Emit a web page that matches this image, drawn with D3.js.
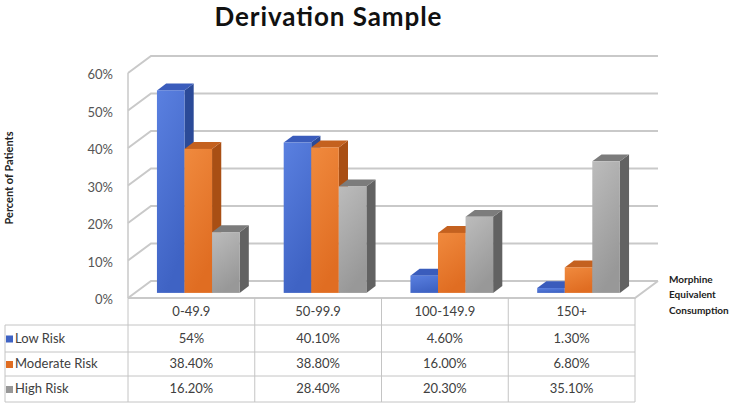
<!DOCTYPE html>
<html>
<head>
<meta charset="utf-8">
<script src="https://cdn.jsdelivr.net/npm/d3@7"></script>
<style>
html,body{margin:0;padding:0;background:#fff;}
svg{display:block;}
</style>
</head>
<body>
<svg id="chart" width="742" height="407"></svg>
<script>
// ---- data ----
const categories = ["0-49.9", "50-99.9", "100-149.9", "150+"];
const seriesNames = ["Low Risk", "Moderate Risk", "High Risk"];
const lowRisk = [54, 40.1, 4.6, 1.3];
const moderateRisk = [38.4, 38.8, 16.0, 6.8];
const highRisk = [16.2, 28.4, 20.3, 35.1];
const lowRiskLabels = ["54%", "40.10%", "4.60%", "1.30%"];
const moderateRiskLabels = ["38.40%", "38.80%", "16.00%", "6.80%"];
const highRiskLabels = ["16.20%", "28.40%", "20.30%", "35.10%"];
const yTicks = [0, 10, 20, 30, 40, 50, 60];
const yTickLabels = ["0%", "10%", "20%", "30%", "40%", "50%", "60%"];
const title = "Derivation Sample";
const yTitle = "Percent of Patients";
const xTitle = ["Morphine", "Equivalent", "Consumption"];

const seriesValues = [lowRisk, moderateRisk, highRisk];
const seriesLabels = [lowRiskLabels, moderateRiskLabels, highRiskLabels];

// ---- styles ----
const palette = [
  {front: ["#5a80e0", "#3f63c4"], side: "#2b4a98", top: "#3a5cbc"},
  {front: ["#f08a3e", "#e06d22"], side: "#a94f14", top: "#c4611f"},
  {front: ["#bcbcbc", "#989898"], side: "#626262", top: "#7c7c7c"}
];
const font = "Lato, 'Open Sans', sans-serif";

const svg = d3.select("#chart");
const defs = svg.append("defs");
palette.forEach((p, i) => {
  const g = defs.append("linearGradient").attr("id", "grad" + i)
    .attr("x1", 0).attr("y1", 0).attr("x2", 0.35).attr("y2", 1);
  g.append("stop").attr("offset", "0%").attr("stop-color", p.front[0]);
  g.append("stop").attr("offset", "100%").attr("stop-color", p.front[1]);
});

// ---- geometry ----
const x0 = 128, x1 = 635, floorY = 298;
const depth = {dx: 23, dy: -17};
const fFront = 0.3, fBack = 0.7;

const x = d3.scaleBand().domain(categories).range([x0, x1]).padding(0);
const xs = d3.scaleBand().domain(seriesNames).range([0, x.bandwidth()])
  .paddingInner(0).paddingOuter(0.8);
const h = d3.scaleLinear().domain([0, 60]).range([0, 225]);

// ---- gridlines: back wall + left wall ----
const grid = svg.append("g").attr("stroke", "#c9c9c9").attr("stroke-width", 2).attr("fill", "none");
yTicks.forEach(t => {
  const yf = floorY - h(t);
  const yb = yf + depth.dy;
  grid.append("path").attr("d", `M${x0},${yf}L${x0 + depth.dx},${yb}L${x1 + depth.dx},${yb}`);
});
// floor outline
grid.append("path").attr("d",
  `M${x0},${floorY}L${x1},${floorY}L${x1 + depth.dx},${floorY + depth.dy}`);
// left vertical axis
svg.append("line").attr("x1", x0).attr("x2", x0)
  .attr("y1", floorY - h(60)).attr("y2", floorY)
  .attr("stroke", "#c9c9c9").attr("stroke-width", 1.5);

// ---- y tick labels ----
svg.append("g").selectAll("text").data(yTicks).join("text")
  .attr("x", 113).attr("y", d => floorY - h(d) + 3)
  .attr("text-anchor", "end").attr("dominant-baseline", "middle")
  .attr("font-family", font).attr("font-size", 13).attr("fill", "#555")
  .text((d, i) => yTickLabels[i]);

// ---- bars ----
const barsG = svg.append("g");
categories.forEach((c, ci) => {
  seriesNames.forEach((s, si) => {
    const v = seriesValues[si][ci];
    const p = palette[si];
    const bx = x(c) + xs(s) + depth.dx * fFront;
    const by = floorY + depth.dy * fFront;
    const w = xs.bandwidth();
    const hh = h(v);
    const ddx = depth.dx * (fBack - fFront), ddy = depth.dy * (fBack - fFront);
    // side
    barsG.append("path").attr("fill", p.side)
      .attr("d", `M${bx + w},${by}L${bx + w + ddx},${by + ddy}L${bx + w + ddx},${by - hh + ddy}L${bx + w},${by - hh}Z`);
    // top
    barsG.append("path").attr("fill", p.top)
      .attr("d", `M${bx},${by - hh}L${bx + ddx},${by - hh + ddy}L${bx + w + ddx},${by - hh + ddy}L${bx + w},${by - hh}Z`);
    // front
    barsG.append("rect").attr("x", bx).attr("y", by - hh)
      .attr("width", w).attr("height", hh).attr("fill", `url(#grad${si})`);
  });
});

// ---- table ----
const tableTop = floorY, headerBottom = 325;
const rowLines = [325, 352, 376, 402];
const legendLeft = 5;
const tg = svg.append("g").attr("stroke", "#c4c4c4").attr("stroke-width", 1).attr("fill", "none");
// vertical lines
[x0, ...categories.map(c => x(c) + x.bandwidth())].forEach(xx => {
  tg.append("line").attr("x1", xx).attr("x2", xx).attr("y1", tableTop).attr("y2", rowLines[3]);
});
tg.append("line").attr("x1", legendLeft).attr("x2", legendLeft).attr("y1", rowLines[0]).attr("y2", rowLines[3]);
rowLines.forEach(yy => {
  tg.append("line").attr("x1", legendLeft).attr("x2", x1).attr("y1", yy).attr("y2", yy);
});

// header labels
svg.append("g").selectAll("text").data(categories).join("text")
  .attr("x", d => x(d) + x.bandwidth() / 2).attr("y", (tableTop + headerBottom) / 2 + 1)
  .attr("text-anchor", "middle").attr("dominant-baseline", "middle")
  .attr("font-family", font).attr("font-size", 13).attr("fill", "#404040")
  .text(d => d);

// rows
seriesNames.forEach((s, si) => {
  const yc = (rowLines[si] + rowLines[si + 1]) / 2 + 1;
  svg.append("rect").attr("x", legendLeft + 1).attr("y", yc - 4).attr("width", 7).attr("height", 7)
    .attr("fill", palette[si].front[1]);
  svg.append("text").attr("x", legendLeft + 10).attr("y", yc)
    .attr("dominant-baseline", "middle")
    .attr("font-family", font).attr("font-size", 13).attr("fill", "#404040").text(s);
  svg.append("g").selectAll("text").data(categories).join("text")
    .attr("x", d => x(d) + x.bandwidth() / 2).attr("y", yc)
    .attr("text-anchor", "middle").attr("dominant-baseline", "middle")
    .attr("font-family", font).attr("font-size", 13).attr("fill", "#404040")
    .text((d, ci) => seriesLabels[si][ci]);
});

// ---- titles ----
svg.append("text").attr("x", 328).attr("y", 26)
  .attr("text-anchor", "middle")
  .attr("font-family", font).attr("font-weight", "bold").attr("font-size", 26)
  .attr("textLength", 227).attr("lengthAdjust", "spacing")
  .attr("fill", "#111").text(title);

svg.append("text").attr("transform", "translate(10,178) rotate(-90)")
  .attr("text-anchor", "middle").attr("dominant-baseline", "middle")
  .attr("font-family", font).attr("font-weight", "bold").attr("font-size", 11)
  .attr("fill", "#222").text(yTitle);

svg.append("g").selectAll("text").data(xTitle).join("text")
  .attr("x", 669).attr("y", (d, i) => 280 + i * 15.5)
  .attr("dominant-baseline", "middle")
  .attr("font-family", font).attr("font-weight", "bold").attr("font-size", 10)
  .attr("fill", "#222").text(d => d);
</script>
</body>
</html>
